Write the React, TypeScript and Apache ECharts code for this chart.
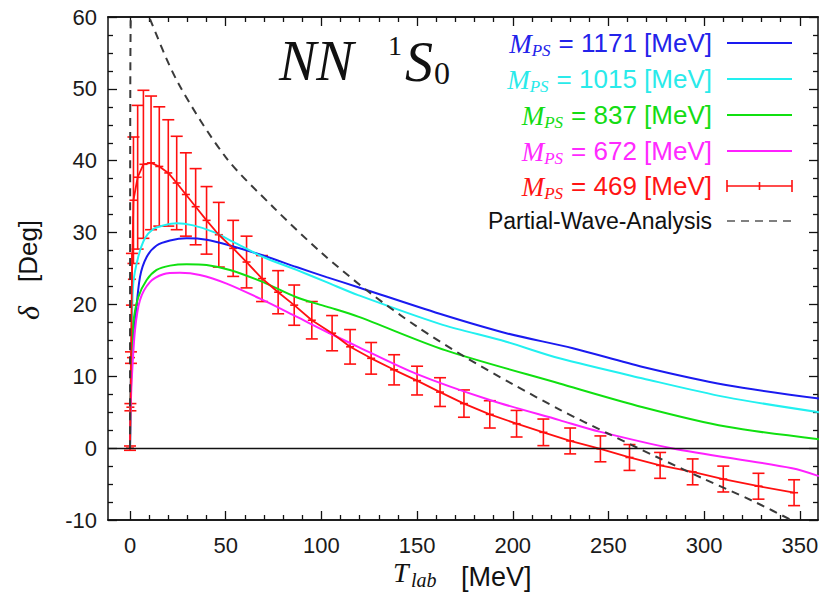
import React, { useEffect, useRef } from "react";
import * as echarts from "echarts";

const SANS = '"Liberation Sans", Arial, Helvetica, sans-serif';
const SERIF = '"Liberation Serif", "Times New Roman", Times, serif';

// ---------- axis ticks ----------
const X_MIN = -11.5;
const X_MAX = 359.5;
const xMajorTicks = [0, 50, 100, 150, 200, 250, 300, 350];
const xMinorTicks = [
  10, 20, 30, 40, 60, 70, 80, 90, 110, 120, 130, 140, 160, 170, 180, 190,
  210, 220, 230, 240, 260, 270, 280, 290, 310, 320, 330, 340,
];

// ---------- series data (T_lab [MeV], delta [deg]) ----------
const t1171 = [0, 0.4, 1, 2.6, 5.2, 8.7, 13.9, 20.9, 29.6, 40, 52.2, 69.6, 87, 102.7, 119.2, 161.8, 196.6, 231.4, 268, 311.4, 360];
const d1171 = [0, 8, 13, 17.4, 23.8, 26.6, 28.2, 28.9, 29.2, 29.0, 28.2, 26.8, 25.2, 23.8, 22.4, 18.7, 16.0, 13.9, 11.3, 8.8, 6.9];

const t1015 = [0, 0.3, 0.8, 1.7, 4.3, 7.8, 12.2, 17.4, 24.4, 33, 43.5, 54, 69.6, 87, 102.7, 119.2, 161.8, 196.6, 224.4, 268, 311.4, 360];
const d1015 = [0, 8, 15, 22.9, 26.6, 29.2, 30.5, 31.0, 31.3, 31.0, 30.1, 28.7, 26.6, 24.8, 23.1, 21.3, 17.3, 14.8, 12.5, 9.7, 7.1, 5.0];

const t837 = [0, 0.3, 0.8, 1.7, 4.3, 8.7, 13.9, 20.9, 29.6, 40, 52.2, 69.6, 87, 102.7, 119.2, 165, 224.4, 268, 311.4, 360];
const d837 = [0, 6, 11, 17.3, 21, 23.4, 24.8, 25.4, 25.6, 25.5, 24.8, 23.1, 21.0, 19.7, 18.3, 13.6, 9.0, 5.7, 3.0, 1.25];

const t672 = [0, 0.3, 0.9, 2.6, 5.2, 10.4, 17.4, 26.1, 36.5, 50.5, 69.6, 87, 102.7, 119.2, 150, 188, 224.4, 245.3, 283, 346, 360];
const d672 = [0, 5, 9.5, 16.4, 20.6, 23.1, 24.2, 24.4, 24.1, 22.9, 20.6, 18.3, 16.2, 14.1, 10.3, 6.7, 3.9, 2.3, 0, -2.8, -3.9];

const t469 = [0, 0.2, 0.5, 1.0, 1.8, 4.0, 7.0, 11.0, 15.3, 20.0, 24.4, 29.2, 34.3, 40.0, 46.4, 53.9, 60.9, 69, 77.4, 85.8, 95, 105.6, 115, 126, 138, 150, 162, 174.5, 188, 202, 216, 230, 245.8, 261, 277, 294, 310, 328.4, 347];
const d469 = [0, 5.7, 12.6, 23.5, 34.5, 37.7, 39.5, 39.7, 39.2, 38.3, 36.9, 35.3, 33.6, 31.7, 29.7, 27.8, 25.9, 23.6, 21.7, 19.9, 17.8, 16.0, 14.1, 12.5, 10.9, 9.4, 7.8, 6.2, 4.7, 3.4, 2.2, 1.0, -0.1, -1.3, -2.4, -3.3, -4.3, -5.3, -6.2];
const e469 = [0.3, 0.5, 0.8, 3.6, 8.8, 10, 10.3, 9.3, 8.3, 7.4, 6.5, 5.8, 5.3, 4.7, 4.5, 3.9, 3.6, 3.2, 3.0, 2.8, 2.6, 2.45, 2.4, 2.2, 2.1, 2.0, 2.0, 1.9, 1.9, 1.85, 1.85, 1.8, 1.8, 1.8, 1.8, 1.8, 1.8, 1.8, 1.8];

const tPWA = [0, 0.05, 0.15, 0.3, 0.6, 1, 5, 10, 25, 50, 75, 100, 125, 150, 175, 200, 225, 250, 275, 300, 325, 350];
const dPWA = [0, 30, 50, 58, 62, 62.1, 63.6, 60, 50.9, 40.5, 33.5, 27.2, 21.7, 16.9, 12.7, 8.9, 5.3, 2.0, -1.2, -4.3, -7.3, -10.6];

// ---------- legend ----------
const legendMasses = ["1171", "1015", "837", "672", "469"];
const legendColors = ["#2323ea", "#2aeaea", "#14dc14", "#ff2aff", "#ff1414"];
const lineColors = ["#1a1af0", "#22f0f0", "#10e010", "#ff20ff", "#ff1010"];
const PWA_LABEL = "Partial-Wave-Analysis";

const pairs = (t: number[], d: number[]) => t.map((v, i) => [v, d[i]]);

const measureText = (text: string, font: string): number => {
  const ctx = document.createElement("canvas").getContext("2d");
  if (!ctx) return text.length * 12;
  ctx.font = font;
  return ctx.measureText(text).width;
};

export default function App() {
  const ref = useRef<HTMLDivElement>(null);

  useEffect(() => {
    if (!ref.current) return;
    const chart = echarts.init(ref.current, undefined, { renderer: "svg" });

    const axisLineStyle = { color: "#111", width: 1.5 };
    const tickStyle = { color: "#111", width: 1.3 };
    const baseX = {
      type: "value" as const,
      min: X_MIN,
      max: X_MAX,
      gridIndex: 0,
      splitLine: { show: false },
      axisLine: { show: true, onZero: false, lineStyle: axisLineStyle },
    };
    const xAxes = [
      {
        ...baseX,
        position: "bottom",
        axisTick: { show: true, inside: true, length: 9, customValues: xMajorTicks, lineStyle: tickStyle },
        axisLabel: { show: true, customValues: xMajorTicks, fontSize: 22, fontFamily: SANS, color: "#1a1a1a", margin: 14 },
      },
      {
        ...baseX,
        position: "bottom",
        axisTick: { show: true, inside: true, length: 5, customValues: xMinorTicks, lineStyle: tickStyle },
        axisLabel: { show: false },
      },
      {
        ...baseX,
        position: "top",
        axisTick: { show: true, inside: true, length: 9, customValues: xMajorTicks, lineStyle: tickStyle },
        axisLabel: { show: false },
      },
      {
        ...baseX,
        position: "top",
        axisTick: { show: true, inside: true, length: 5, customValues: xMinorTicks, lineStyle: tickStyle },
        axisLabel: { show: false },
      },
    ];
    const baseY = {
      type: "value" as const,
      min: -10,
      max: 60,
      interval: 10,
      splitLine: { show: false },
      minorSplitLine: { show: false },
      axisLine: { show: true, onZero: false, lineStyle: axisLineStyle },
      axisTick: { show: true, inside: true, length: 9, lineStyle: tickStyle },
      minorTick: { show: true, splitNumber: 4, length: 5, lineStyle: tickStyle },
    };
    const yAxes = [
      {
        ...baseY,
        position: "left",
        axisLabel: { show: true, fontSize: 22, fontFamily: SANS, color: "#1a1a1a", margin: 11 },
      },
      { ...baseY, position: "right", axisLabel: { show: false } },
    ];

    const lineSeries = (name: string, t: number[], d: number[], color: string, extra: any = {}) => ({
      name,
      type: "line",
      xAxisIndex: 0,
      yAxisIndex: 0,
      data: pairs(t, d),
      showSymbol: false,
      symbol: "none",
      smooth: 0.3,
      clip: true,
      silent: true,
      lineStyle: { color, width: 2 },
      ...extra,
    });

    const RED = lineColors[4];

    const errorSeries = {
      name: "errors",
      type: "custom",
      xAxisIndex: 0,
      yAxisIndex: 0,
      silent: true,
      data: t469.map((t, i) => [t, d469[i], e469[i]]),
      encode: { x: 0, y: 1 },
      renderItem: (params: any, api: any) => {
        const t = api.value(0);
        const d = api.value(1);
        const e = api.value(2);
        const c = api.coord([t, d]);
        const hi = api.coord([t, d + e]);
        const lo = api.coord([t, d - e]);
        const cw = 6;
        const pw = 4;
        const style = { stroke: RED, lineWidth: 1.6, fill: "none" };
        return {
          type: "group",
          children: [
            { type: "line", shape: { x1: c[0], y1: hi[1], x2: c[0], y2: lo[1] }, style },
            { type: "line", shape: { x1: c[0] - cw, y1: hi[1], x2: c[0] + cw, y2: hi[1] }, style },
            { type: "line", shape: { x1: c[0] - cw, y1: lo[1], x2: c[0] + cw, y2: lo[1] }, style },
            { type: "line", shape: { x1: c[0] - pw, y1: c[1], x2: c[0] + pw, y2: c[1] }, style },
          ],
        };
      },
    };

    // ---------- graphic elements: title, legend, axis names ----------
    const graphics: any[] = [];
    // Title NN 1S0
    graphics.push(
      { type: "text", x: 279, y: 61, style: { text: "NN", fontSize: 56, fontStyle: "italic", fontFamily: SERIF, fill: "#111", align: "left", verticalAlign: "middle" } },
      { type: "text", x: 388, y: 45, style: { text: "1", fontSize: 28, fontFamily: SERIF, fill: "#111", align: "left", verticalAlign: "middle" } },
      { type: "text", x: 405, y: 62, style: { text: "S", fontSize: 56, fontStyle: "italic", fontFamily: SERIF, fill: "#111", align: "left", verticalAlign: "middle" } },
      { type: "text", x: 434, y: 73, style: { text: "0", fontSize: 32, fontFamily: SERIF, fill: "#111", align: "left", verticalAlign: "middle" } }
    );

    const LEG_RIGHT = 712;
    const LX1 = 727;
    const LX2 = 792;
    const rowYs = [43, 79, 115, 151, 186, 221];
    const restFontSize = 26;
    const psFontSize = 17;
    legendMasses.forEach((m, i) => {
      const y = rowYs[i];
      const rest = `= ${m} [MeV]`;
      const wRest = measureText(rest, `${restFontSize}px ${SANS}`);
      const wPS = measureText("PS", `italic ${psFontSize}px ${SERIF}`);
      const psRight = LEG_RIGHT - wRest - 8;
      const col = legendColors[i];
      graphics.push(
        { type: "text", x: LEG_RIGHT, y, style: { text: rest, fontSize: restFontSize, fontFamily: SANS, fill: col, align: "right", verticalAlign: "middle" } },
        { type: "text", x: psRight, y: y + 7, style: { text: "PS", fontSize: psFontSize, fontStyle: "italic", fontFamily: SERIF, fill: col, align: "right", verticalAlign: "middle" } },
        { type: "text", x: psRight - wPS, y: y + 1, style: { text: "M", fontSize: 27, fontStyle: "italic", fontFamily: SERIF, fill: col, align: "right", verticalAlign: "middle" } }
      );
      if (i < 4) {
        graphics.push({ type: "line", shape: { x1: LX1, y1: y, x2: LX2, y2: y }, style: { stroke: lineColors[i], lineWidth: 2 } });
      } else {
        const st = { stroke: lineColors[i], lineWidth: 1.6 };
        graphics.push(
          { type: "line", shape: { x1: LX1, y1: y, x2: LX2, y2: y }, style: st },
          { type: "line", shape: { x1: LX1, y1: y - 6, x2: LX1, y2: y + 6 }, style: st },
          { type: "line", shape: { x1: LX2, y1: y - 6, x2: LX2, y2: y + 6 }, style: st },
          { type: "line", shape: { x1: (LX1 + LX2) / 2, y1: y - 4, x2: (LX1 + LX2) / 2, y2: y + 4 }, style: st }
        );
      }
    });
    graphics.push(
      { type: "text", x: LEG_RIGHT, y: rowYs[5], style: { text: PWA_LABEL, fontSize: 23, fontFamily: SANS, fill: "#111", align: "right", verticalAlign: "middle" } },
      { type: "line", shape: { x1: LX1, y1: rowYs[5], x2: LX2, y2: rowYs[5] }, style: { stroke: "#808080", lineWidth: 2, lineDash: [8, 6] } }
    );

    // x axis name: T_lab [MeV]
    graphics.push(
      { type: "text", x: 393, y: 572, style: { text: "T", fontSize: 28, fontStyle: "italic", fontFamily: SERIF, fill: "#111", align: "left", verticalAlign: "middle" } },
      { type: "text", x: 411, y: 580, style: { text: "lab", fontSize: 20, fontStyle: "italic", fontFamily: SERIF, fill: "#111", align: "left", verticalAlign: "middle" } },
      { type: "text", x: 461, y: 577, style: { text: "[MeV]", fontSize: 27, fontFamily: SANS, fill: "#111", align: "left", verticalAlign: "middle" } }
    );

    // y axis name: delta [Deg] (rotated)
    graphics.push({
      type: "group",
      x: 28,
      y: 269,
      rotation: Math.PI / 2,
      children: [
        { type: "text", x: -44, y: 0, style: { text: "δ", fontSize: 30, fontStyle: "italic", fontFamily: SERIF, fill: "#111", align: "center", verticalAlign: "middle" } },
        { type: "text", x: 18, y: 0, style: { text: "[Deg]", fontSize: 26, fontFamily: SANS, fill: "#111", align: "center", verticalAlign: "middle" } },
      ],
    });

    const option: any = {
      animation: false,
      backgroundColor: "#ffffff",
      grid: { left: 108, right: 5, top: 17, bottom: 76, containLabel: false },
      xAxis: xAxes,
      yAxis: yAxes,
      graphic: graphics,
      series: [
        {
          name: "zero",
          type: "line",
          data: [],
          silent: true,
          markLine: {
            silent: true,
            symbol: "none",
            label: { show: false },
            lineStyle: { color: "#111", width: 1.3, type: "solid" },
            data: [{ yAxis: 0 }],
          },
        },
        lineSeries("M_PS = 1171 [MeV]", t1171, d1171, lineColors[0]),
        lineSeries("M_PS = 1015 [MeV]", t1015, d1015, lineColors[1]),
        lineSeries("M_PS = 837 [MeV]", t837, d837, lineColors[2]),
        lineSeries("M_PS = 672 [MeV]", t672, d672, lineColors[3]),
        lineSeries("M_PS = 469 [MeV]", t469, d469, RED, { smooth: false, lineStyle: { color: RED, width: 1.8 } }),
        errorSeries,
        lineSeries(PWA_LABEL, tPWA, dPWA, "#3a3a3a", { lineStyle: { color: "#3a3a3a", width: 2, type: [8, 6] } }),
      ],
    };

    chart.setOption(option);
    return () => {
      chart.dispose();
    };
  }, []);

  return (
    <div
      ref={ref}
      style={{ position: "fixed", left: 0, top: 0, width: 823, height: 596, background: "#fff" }}
    />
  );
}
